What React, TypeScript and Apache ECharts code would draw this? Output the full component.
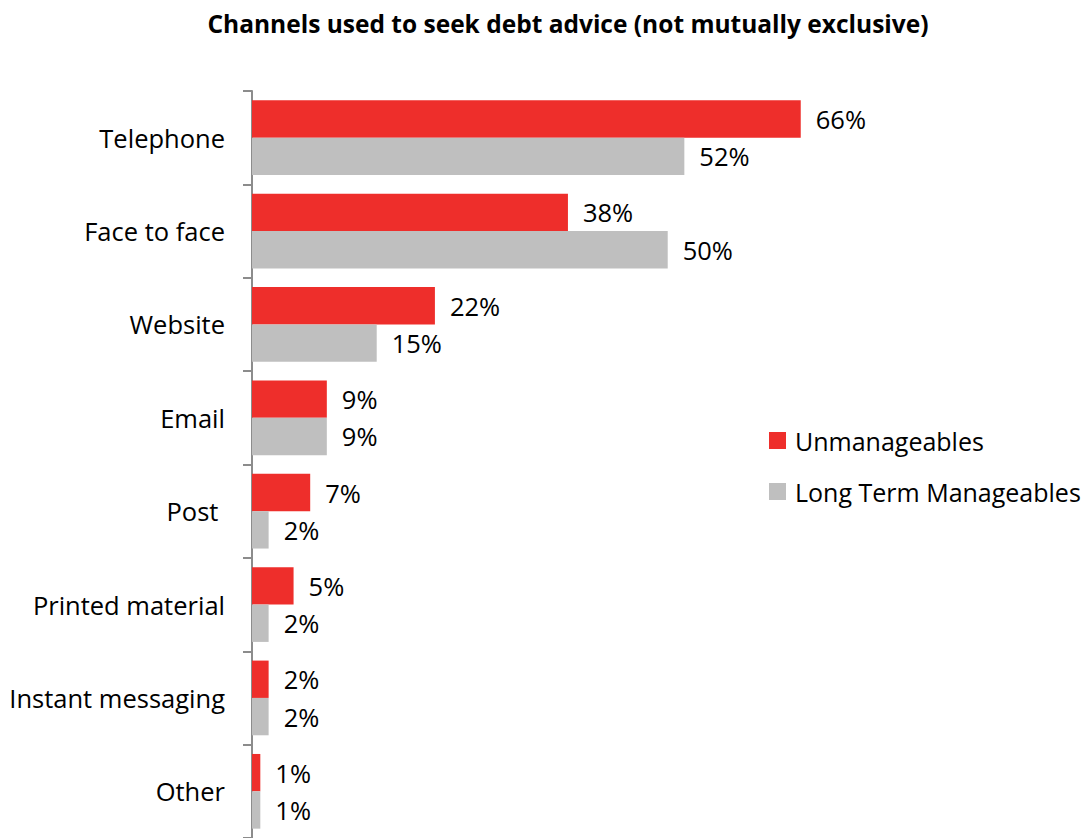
import React, { useEffect, useRef } from "react";
import * as echarts from "echarts";

const categories = ["Telephone", "Face to face", "Website", "Email", "Post ", "Printed material", "Instant messaging", "Other"];
const unmanageables = [66, 38, 22, 9, 7, 5, 2, 1];
const longTermManageables = [52, 50, 15, 9, 2, 2, 2, 1];
const seriesNames = ["Unmanageables", "Long Term Manageables"];
const titleText = "Channels used to seek debt advice (not mutually exclusive)";

const FONT = "Open Sans";
const FS = 25.5;

export default function App() {
  const ref = useRef<HTMLDivElement>(null);
  useEffect(() => {
    const chart = echarts.init(ref.current!, null, { renderer: "svg" });
    chart.setOption({
      animation: false,
      backgroundColor: "#ffffff",
      title: {
        text: titleText,
        left: 563,
        top: 6,
        textAlign: "center",
        textStyle: { fontFamily: FONT, fontSize: 24.5, fontWeight: "bold", color: "#000" },
      },
      legend: {
        orient: "vertical",
        left: 769,
        top: 428,
        padding: 0,
        itemWidth: 17,
        itemHeight: 17,
        itemGap: 26,
        icon: "rect",
        data: seriesNames,
        textStyle: { fontFamily: FONT, fontSize: 25, color: "#000", padding: [0, 0, 0, 4] },
      },
      grid: { left: 252, top: 91, width: 582, height: 752 },
      xAxis: {
        type: "value",
        min: 0,
        max: 70,
        show: false,
      },
      yAxis: {
        type: "category",
        inverse: true,
        data: categories,
        axisLine: { show: true, lineStyle: { color: "#8c8c8c", width: 2 } },
        axisTick: { show: true, length: 9, lineStyle: { color: "#8c8c8c", width: 2 } },
        axisLabel: { fontFamily: FONT, fontSize: FS, color: "#000", margin: 27 },
        splitLine: { show: false },
      },
      series: [
        {
          name: seriesNames[0],
          type: "bar",
          data: unmanageables,
          itemStyle: { color: "#ee2e2b" },
          barGap: "0%",
          barCategoryGap: "20%",
          label: { show: true, position: "right", distance: 15, formatter: "{c}%", fontFamily: FONT, fontSize: FS, color: "#000" },
        },
        {
          name: seriesNames[1],
          type: "bar",
          data: longTermManageables,
          itemStyle: { color: "#bfbfbf" },
          barGap: "0%",
          barCategoryGap: "20%",
          label: { show: true, position: "right", distance: 15, formatter: "{c}%", fontFamily: FONT, fontSize: FS, color: "#000" },
        },
      ],
    });
    return () => chart.dispose();
  }, []);
  return <div ref={ref} style={{ position: "absolute", left: 0, top: 0, width: 1088, height: 838 }} />;
}
